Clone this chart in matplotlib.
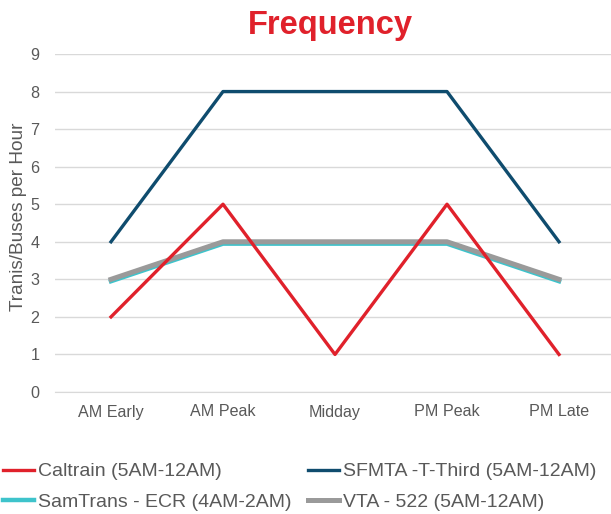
import matplotlib.pyplot as plt

plt.rcParams['font.family'] = ['Liberation Sans', 'DejaVu Sans']

periods = ['AM Early', 'AM Peak', 'Midday', 'PM Peak', 'PM Late']
caltrain = [2, 5, 1, 5, 1]
sfmta = [4, 8, 8, 8, 4]
samtrans = [2.95, 3.95, 3.95, 3.95, 2.95]
vta = [3, 4, 4, 4, 3]

fig = plt.figure(figsize=(6.11, 5.14), dpi=100)
ax = fig.add_axes([55 / 611, 122 / 514, 560 / 611, 338 / 514])

x = range(len(periods))
# drawn in this order so the grey line sits over the cyan one
l_sf, = ax.plot(x, sfmta, color='#0F4C6E', lw=2.4, label='SFMTA -T-Third (5AM-12AM)')
l_st, = ax.plot(x, samtrans, color='#3EC3CB', lw=3.2, label='SamTrans - ECR (4AM-2AM)')
l_vta, = ax.plot(x, vta, color='#9A9A9A', lw=3.6, label='VTA - 522 (5AM-12AM)')
l_ct, = ax.plot(x, caltrain, color='#E0212B', lw=2.4, label='Caltrain (5AM-12AM)')

ax.set_xlim(-0.5, 4.5)
ax.set_ylim(0, 9)
ax.set_yticks(range(10))
ax.set_xticks(list(x))
ax.set_xticklabels(periods)
ax.grid(axis='y', color='#D9D9D9', lw=1)
ax.set_axisbelow(True)
for s in ['top', 'right', 'left']:
    ax.spines[s].set_visible(False)
ax.spines['bottom'].set_color('#D9D9D9')
ax.tick_params(length=0, labelsize=11.6, colors='#595959', pad=9)
ax.tick_params(axis='y', pad=11)
ax.set_ylabel('Tranis/Buses per Hour', fontsize=13.7, color='#595959')
ax.yaxis.set_label_coords(-0.05, 0.518)

fig.text(0.54, 0.95, 'Frequency', ha='center', va='center',
         fontsize=23.5, fontweight='bold', color='#E0212B')

# legend fills column by column: Caltrain/SamTrans, then SFMTA/VTA
handles = [l_ct, l_st, l_sf, l_vta]
fig.legend(handles, [h.get_label() for h in handles], ncol=2,
           loc='lower left', bbox_to_anchor=(0.0, 0.0), frameon=False,
           fontsize=14, labelcolor='#595959', handlelength=1.6,
           handletextpad=0.2, columnspacing=0.85, borderaxespad=0.0,
           borderpad=0.15, labelspacing=0.67)

fig.savefig('out.png', dpi=100)
